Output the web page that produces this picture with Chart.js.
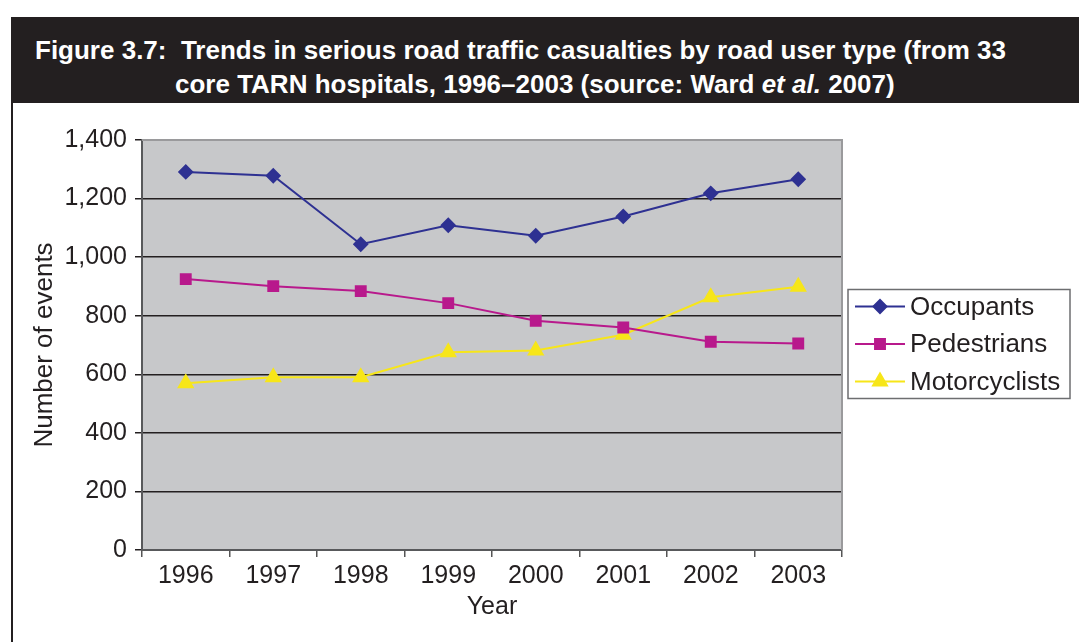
<!DOCTYPE html>
<html>
<head>
<meta charset="utf-8">
<script src="https://cdn.jsdelivr.net/npm/chart.js@4.4.1/dist/chart.umd.min.js"></script>
<style>
  html, body { margin: 0; padding: 0; background: #fff; }
  body { width: 1079px; height: 642px; position: relative; overflow: hidden; font-family: "Liberation Sans", Arial, sans-serif; }
  #header {
    position: absolute; left: 11px; top: 17px; width: 1068px; height: 86px;
    background: #231f20; color: #fff; font-weight: bold; font-size: 26px;
  }
  #header .l1 { position: absolute; left: 24px; top: 18px; white-space: nowrap; }
  #header .l2 { position: absolute; left: 164px; top: 52px; white-space: nowrap; }
  #leftRule { position: absolute; left: 11px; top: 103px; width: 2px; height: 539px; background: #231f20; }
  #wrap { position: absolute; left: 13px; top: 103px; width: 1066px; height: 539px; }
</style>
</head>
<body>
<div id="header">
  <div class="l1">Figure 3.7:&nbsp; Trends in serious road traffic casualties by road user type (from 33</div>
  <div class="l2">core TARN hospitals, 1996–2003 (source: Ward <i>et al.</i> 2007)</div>
</div>
<div id="leftRule"></div>
<div id="wrap"><canvas id="chart" width="1066" height="539"></canvas></div>
<script>
// --- Data ---
const years = ["1996", "1997", "1998", "1999", "2000", "2001", "2002", "2003"];
const occupants = [1291, 1278, 1044, 1109, 1073, 1139, 1218, 1266];
const pedestrians = [925, 901, 884, 843, 783, 760, 711, 705];
const motorcyclists = [569, 590, 590, 675, 681, 735, 863, 899];

const FONT = "'Liberation Sans', Arial, sans-serif";
const TEXT = "#231f20";

// Grey plot background + frame on top/right
const plotFrame = {
    id: "plotFrame",
    beforeDraw(chart) {
        const { ctx, chartArea: a } = chart;
        ctx.save();
        ctx.fillStyle = "#c7c8ca";
        ctx.fillRect(a.left, a.top, a.right - a.left, a.bottom - a.top);
        ctx.restore();
    },
    beforeDatasetsDraw(chart) {
        const { ctx, chartArea: a } = chart;
        ctx.save();
        ctx.strokeStyle = "#9a9a9c";
        ctx.lineWidth = 2;
        ctx.beginPath();
        ctx.moveTo(a.left, a.top);
        ctx.lineTo(a.right, a.top);
        ctx.lineTo(a.right, a.bottom);
        ctx.stroke();
        ctx.restore();
    }
};

// Boxed legend with line + marker, like the original
const boxLegend = {
    id: "boxLegend",
    afterDraw(chart) {
        const { ctx, chartArea: a } = chart;
        const w = 222, h = 109;
        const x = a.right + 6;
        const y = (a.top + a.bottom) / 2 - h / 2 - 1;
        ctx.save();
        ctx.fillStyle = "#fff";
        ctx.fillRect(x, y, w, h);
        ctx.strokeStyle = "#6d6e70";
        ctx.lineWidth = 1.5;
        ctx.strokeRect(x, y, w, h);
        chart.data.datasets.forEach((ds, i) => {
            const cy = y + 17 + i * 37.5;
            ctx.strokeStyle = ds.borderColor;
            ctx.lineWidth = 2;
            ctx.beginPath();
            ctx.moveTo(x + 7, cy);
            ctx.lineTo(x + 57, cy);
            ctx.stroke();
            ctx.fillStyle = ds.backgroundColor;
            ctx.strokeStyle = ds.borderColor;
            Chart.helpers.drawPoint(ctx, { pointStyle: ds.pointStyle, radius: ds.pointRadius, borderWidth: 1, rotation: 0 }, x + 32, cy);
            ctx.fillStyle = TEXT;
            ctx.font = "26px " + FONT;
            ctx.textBaseline = "middle";
            ctx.textAlign = "left";
            ctx.fillText(ds.label, x + 62, cy + 1);
        });
        ctx.restore();
    }
};

const ctx = document.getElementById("chart").getContext("2d");
new Chart(ctx, {
    type: "line",
    data: {
        labels: years,
        datasets: [
            {
                label: "Occupants", data: occupants,
                borderColor: "#2e3192", backgroundColor: "#2e3192",
                borderWidth: 2, pointStyle: "rectRot", pointRadius: 6.5
            },
            {
                label: "Pedestrians", data: pedestrians,
                borderColor: "#b8198c", backgroundColor: "#b8198c",
                borderWidth: 2, pointStyle: "rect", pointRadius: 7
            },
            {
                label: "Motorcyclists", data: motorcyclists,
                borderColor: "#f7e619", backgroundColor: "#f7e619",
                borderWidth: 2, pointStyle: "triangle", pointRadius: 8
            }
        ]
    },
    options: {
        responsive: false,
        animation: false,
        layout: { padding: { top: 37, right: 237, left: 0, bottom: 0 } },
        plugins: { legend: { display: false }, tooltip: { enabled: false } },
        elements: { line: { tension: 0 } },
        scales: {
            x: {
                offset: true,
                grid: { offset: true, drawOnChartArea: false, tickLength: 7, tickColor: "#555", lineWidth: 1.5 },
                border: { color: "#58595b", width: 2 },
                ticks: { color: TEXT, font: { family: FONT, size: 25 }, padding: 4, maxRotation: 0 },
                title: { display: true, text: "Year", color: TEXT, font: { family: FONT, size: 25 }, padding: { top: 0, bottom: 20 } },
                afterFit(s) { s.height = 92; }
            },
            y: {
                min: 0, max: 1400,
                ticks: {
                    stepSize: 200, color: TEXT, font: { family: FONT, size: 25 }, padding: 8,
                    callback: v => v.toLocaleString("en-US")
                },
                grid: {
                    tickLength: 7,
                    tickColor: "#231f20",
                    lineWidth: 1.5,
                    color: c => (c.tick && (c.tick.value === 0 || c.tick.value === 1400)) ? "rgba(0,0,0,0)" : "#231f20"
                },
                border: { color: "#58595b", width: 2 },
                title: { display: true, text: "Number of events", color: TEXT, font: { family: FONT, size: 26 }, padding: { top: 16, bottom: 0 } },
                afterFit(s) { s.width = 129; }
            }
        }
    },
    plugins: [plotFrame, boxLegend]
});
</script>
</body>
</html>
